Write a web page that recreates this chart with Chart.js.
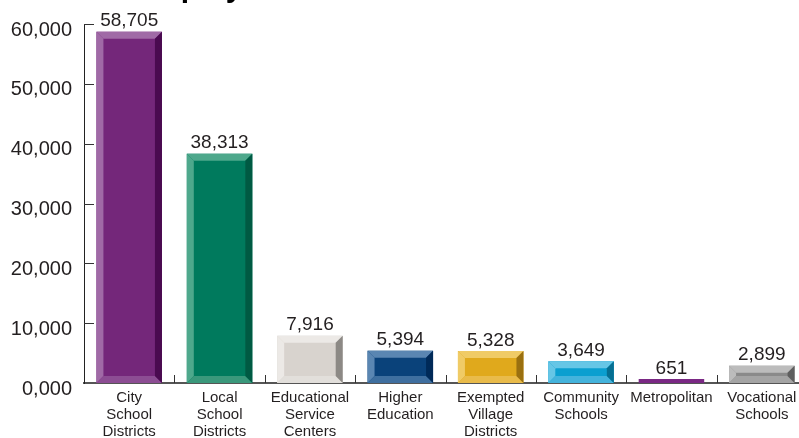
<!DOCTYPE html>
<html>
<head>
<meta charset="utf-8">
<script src="https://cdn.jsdelivr.net/npm/chart.js@4.4.1/dist/chart.umd.min.js"></script>
<style>
  html, body { margin: 0; padding: 0; background: #fff; overflow: hidden; }
  #wrap { width: 807px; height: 438px; position: relative; }
</style>
</head>
<body>
<div id="wrap"><canvas id="chart"></canvas></div>
<script>
// data
const categories = [
  ['City', 'School', 'Districts'],
  ['Local', 'School', 'Districts'],
  ['Educational', 'Service', 'Centers'],
  ['Higher', 'Education'],
  ['Exempted', 'Village', 'Districts'],
  ['Community', 'Schools'],
  'Metropolitan',
  ['Vocational', 'Schools']
];
const employees = [58705, 38313, 7916, 5394, 5328, 3649, 651, 2899];
const yTicks = [0, 10000, 20000, 30000, 40000, 50000, 60000];

// bar face colours and bevel shades (top/left, bottom, right)
const faceColors   = ['#74277a', '#007a5d', '#d8d3ce', '#0a427a', '#e0a91c', '#0b9fd0', '#7a2884', '#8a8a8a'];
const lightColors  = ['#a06aa6', '#4ea88c', '#ece9e6', '#5a86b2', '#f0cb66', '#66c6e6', '#7a2884', '#bcbcbc'];
const bottomColors = ['#8c4d93', '#3a987b', '#e2dfdb', '#3f6f9f', '#e9bb4a', '#44b3dc', '#7a2884', '#a4a4a4'];
const darkColors   = ['#4a0a50', '#005a43', '#8c8985', '#002a58', '#9a7010', '#066f92', '#7a2884', '#5e5e5e'];

const FONT = "'Liberation Sans', Arial, sans-serif";

const fmt = v => v.toLocaleString('en-US');

// bevels, value labels, inner tick marks and the clipped title
const decorations = {
  id: 'decorations',
  afterDatasetsDraw(chart) {
    const ctx = chart.ctx;
    const meta = chart.getDatasetMeta(0);
    meta.data.forEach((bar, i) => {
      const { x, y, base, width } = bar.getProps(['x', 'y', 'base', 'width'], true);
      const left = x - width / 2, right = x + width / 2;
      const h = base - y;
      if (h > 10) {
        const b = Math.min(7, h / 2 - 1);
        const poly = (pts, color) => {
          ctx.beginPath();
          ctx.moveTo(pts[0][0], pts[0][1]);
          pts.slice(1).forEach(p => ctx.lineTo(p[0], p[1]));
          ctx.closePath();
          ctx.fillStyle = color;
          ctx.fill();
        };
        poly([[left, y], [right, y], [right - b, y + b], [left + b, y + b]], lightColors[i]);
        poly([[left, y], [left + b, y + b], [left + b, base - b], [left, base]], lightColors[i]);
        poly([[left, base], [left + b, base - b], [right - b, base - b], [right, base]], bottomColors[i]);
        poly([[right, y], [right, base], [right - b, base - b], [right - b, y + b]], darkColors[i]);
      }
      ctx.save();
      ctx.font = '19px ' + FONT;
      ctx.fillStyle = '#231f20';
      ctx.textAlign = 'center';
      ctx.textBaseline = 'bottom';
      ctx.fillText(fmt(employees[i]), x, y - 1);
      ctx.restore();
    });
  },
  afterDraw(chart) {
    const ctx = chart.ctx;
    const area = chart.chartArea;
    const xs = chart.scales.x, ys = chart.scales.y;
    ctx.save();
    ctx.strokeStyle = '#333';
    ctx.lineWidth = 1;
    ys.ticks.forEach(t => {
      if (t.value === 0) return;
      const py = Math.round(ys.getPixelForValue(t.value)) + 0.5;
      ctx.beginPath();
      ctx.moveTo(area.left, py);
      ctx.lineTo(area.left + 10, py);
      ctx.stroke();
    });
    for (let i = 1; i < categories.length; i++) {
      const px = Math.round((xs.getPixelForValue(i - 1) + xs.getPixelForValue(i)) / 2) + 0.5;
      ctx.beginPath();
      ctx.moveTo(px, area.bottom - 8);
      ctx.lineTo(px, area.bottom);
      ctx.stroke();
    }
    // title, mostly above the visible area
    ctx.font = 'bold 30px ' + FONT;
    ctx.fillStyle = '#000';
    ctx.textAlign = 'left';
    ctx.textBaseline = 'alphabetic';
    ctx.fillText('Employment', 134, -3);
    ctx.restore();
  }
};

new Chart(document.getElementById('chart'), {
  type: 'bar',
  data: {
    labels: categories,
    datasets: [{
      data: employees,
      backgroundColor: faceColors,
      borderWidth: 0,
      categoryPercentage: 1,
      barPercentage: 0.725
    }]
  },
  options: {
    responsive: true,
    maintainAspectRatio: false,
    animation: false,
    layout: { padding: { top: 24, right: 0, left: 0, bottom: 0 } },
    plugins: {
      legend: { display: false },
      tooltip: { enabled: false },
      title: { display: false }
    },
    scales: {
      x: {
        grid: { display: false, drawTicks: false },
        border: { display: true, color: '#555', width: 2 },
        ticks: {
          font: { family: FONT, size: 15, lineHeight: 1.13 },
          color: '#231f20',
          padding: 6,
          maxRotation: 0,
          autoSkip: false
        },
        afterFit(scale) { scale.height = 55; }
      },
      y: {
        min: 0,
        max: 60000,
        afterBuildTicks(scale) { scale.ticks = yTicks.map(v => ({ value: v })); },
        grid: { display: false, drawTicks: false },
        border: { display: true, color: '#222', width: 1 },
        ticks: {
          font: { family: FONT, size: 20 },
          color: '#231f20',
          padding: 12,
          labelOffset: 6,
          callback: v => v === 0 ? '0,000' : fmt(v)
        },
        afterFit(scale) { scale.width = 84; }
      }
    }
  },
  plugins: [decorations]
});
</script>
</body>
</html>
